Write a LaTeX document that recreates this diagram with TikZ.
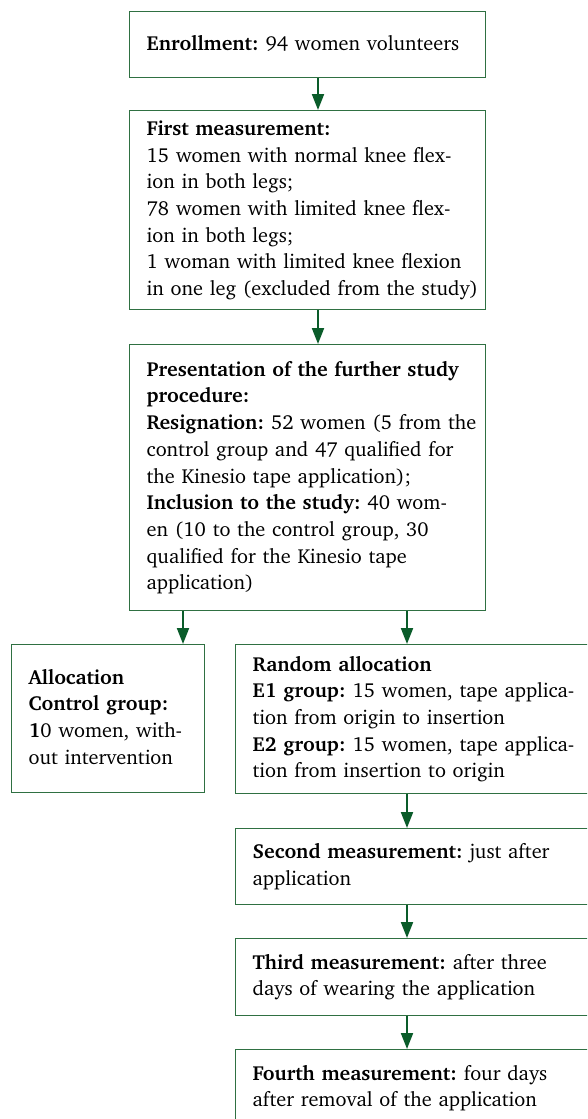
\documentclass[tikz,border=0pt]{standalone}
\usepackage[T1]{fontenc}
\usepackage{charter}
\usetikzlibrary{arrows.meta}
\definecolor{boxcol}{RGB}{47,112,66}
\definecolor{arrcol}{RGB}{10,92,42}
\tikzset{
  flowbox/.style={draw=boxcol, line width=1.4pt, anchor=north west, inner xsep=17pt, inner ysep=0pt,
    align=left, font=\fontsize{20.3}{26.7}\selectfont\frenchspacing},
  flowarr/.style={draw=arrcol, line width=2pt, -{Triangle[width=12pt,length=16pt]}},
}
\begin{document}
\begin{tikzpicture}[x=1pt,y=-1pt]
\useasboundingbox (0,0) rectangle (587,1119);
\clip (0,0) rectangle (587,1119);
\node[flowbox, minimum width=356pt, minimum height=66pt, text width=322pt] (b1) at (129,11)
  {\begin{tabular}{@{}l@{}}\textbf{Enrollment:} 94 women volunteers\end{tabular}};
\node[flowbox, minimum width=356pt, minimum height=199pt, text width=322pt] (b2) at (129,110)
  {\begin{tabular}{@{}l@{}}\textbf{First measurement:}\\
  15 women with normal knee flex-\\
  ion in both legs;\\
  78 women with limited knee flex-\\
  ion in both legs;\\
  1 woman with limited knee flexion\\
  in one leg (excluded from the study)\end{tabular}};
\node[flowbox, minimum width=356pt, minimum height=266pt, text width=322pt] (b3) at (129,344)
  {\begin{tabular}{@{}l@{}}\textbf{Presentation of the further study}\\
  \textbf{procedure:}\\
  \textbf{Resignation:} 52 women (5 from the\\
  control group and 47 qualified for\\
  the Kinesio tape application);\\
  \textbf{Inclusion to the study:} 40 wom-\\
  en (10 to the control group, 30\\
  qualified for the Kinesio tape\\
  application)\end{tabular}};
\node[flowbox, minimum width=193pt, minimum height=148pt, text width=159pt] (ctrl) at (11,644)
  {\begin{tabular}{@{}l@{}}\textbf{Allocation}\\
  \textbf{Control group:}\\
  \textbf{1}0 women, with-\\
  out intervention\end{tabular}};
\node[flowbox, minimum width=365pt, minimum height=149pt, text width=331pt] (rand) at (235,644)
  {\begin{tabular}{@{}l@{}}\textbf{Random allocation}\\
  \textbf{E1 group:} 15 women, tape applica-\\
  tion from origin to insertion\\
  \textbf{E2 group:} 15 women, tape applica-\\
  tion from insertion to origin\end{tabular}};
\node[flowbox, minimum width=365pt, minimum height=76pt, text width=331pt] (sec) at (235,828)
  {\begin{tabular}{@{}l@{}}\textbf{Second measurement:} just after\\
  application\end{tabular}};
\node[flowbox, minimum width=365pt, minimum height=77pt, text width=331pt] (third) at (235,938)
  {\begin{tabular}{@{}l@{}}\textbf{Third measurement:} after three\\
  days of wearing the application\end{tabular}};
\node[flowbox, minimum width=365pt, minimum height=77pt, text width=331pt] (fourth) at (235,1049)
  {\begin{tabular}{@{}l@{}}\textbf{Fourth measurement:} four days\\
  after removal of the application\end{tabular}};
\draw[flowarr] ([xshift=189pt]b1.south west) -- ([xshift=189pt]b2.north west);
\draw[flowarr] ([xshift=189pt]b2.south west) -- ([xshift=189pt]b3.north west);
\draw[flowarr] ([xshift=54pt]b3.south west) -- ([xshift=172pt]ctrl.north west);
\draw[flowarr] ([xshift=278pt]b3.south west) -- ([xshift=172pt]rand.north west);
\draw[flowarr] ([xshift=172pt]rand.south west) -- ([xshift=172pt]sec.north west);
\draw[flowarr] ([xshift=172pt]sec.south west) -- ([xshift=172pt]third.north west);
\draw[flowarr] ([xshift=172pt]third.south west) -- ([xshift=172pt]fourth.north west);
\end{tikzpicture}
\end{document}
